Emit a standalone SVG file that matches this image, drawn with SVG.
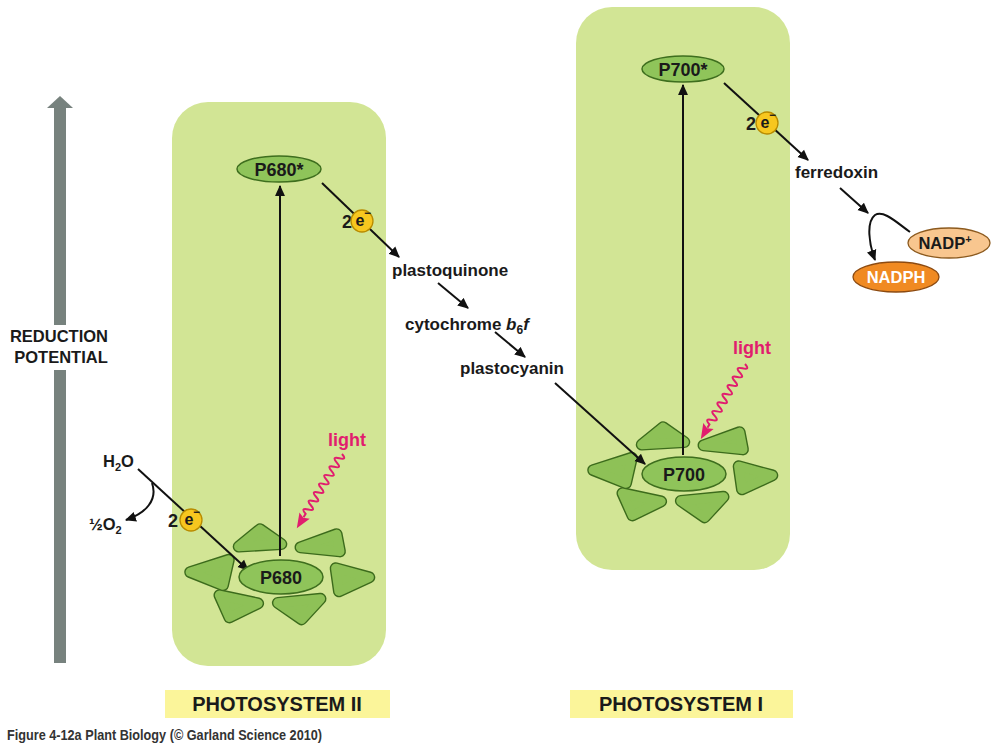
<svg xmlns="http://www.w3.org/2000/svg" xmlns:xlink="http://www.w3.org/1999/xlink" width="1000" height="745" viewBox="0 0 1000 745">
<style>
text{font-family:"Liberation Sans",Arial,sans-serif;font-weight:bold;fill:#1a1a1a}
.box{fill:#d2e595}
.ell{fill:#8fc45a;stroke:#3e6e1e;stroke-width:1.5}
.triO{fill:#3c6b1c;stroke:#3c6b1c;stroke-width:12;stroke-linejoin:round}
.triF{fill:#8ec157;stroke:#8ec157;stroke-width:9.2;stroke-linejoin:round}
.lbl{font-size:17px}
.pn{font-size:18px;text-anchor:middle}
.ln{fill:none;stroke:#111;stroke-width:2}
.ecirc{fill:#f7c71f;stroke:#b88b00;stroke-width:1.3}
.light{fill:#e11d6e;font-size:18px}
.wave{fill:none;stroke:#e11d6e;stroke-width:2}
.ttl{fill:#fbf59a}
</style>
<defs>
<marker id="ah" viewBox="0 0 10 10" refX="9" refY="5" markerWidth="5.5" markerHeight="5.5" orient="auto" markerUnits="strokeWidth">
<path d="M0,0.5 L10,5 L0,9.5 Z" fill="#111"/>
</marker>
<g id="tris">
<polygon points="-42.3,-29.4 -21,-46.7 0.3,-31.9"/>
<polygon points="19.5,-28.7 55.6,-41.8 58.9,-24.6"/>
<polygon points="-90.8,-3.9 -52.2,-16.2 -58,9.2"/>
<polygon points="54.7,-7.7 88.3,1.4 58,15.3"/>
<polygon points="-61.5,19.2 -22.9,27.4 -51.6,41.4"/>
<polygon points="-3.1,26.9 39.5,22.8 20.6,43.3"/>
</g>
<g id="cluster">
<use xlink:href="#tris" href="#tris" class="triO"/>
<use xlink:href="#tris" href="#tris" class="triF"/>
</g>
<g id="wave">
<path class="wave" d="M0,0 q2.5,-8 5,0 t5,0 t5,0 t5,0 t5,0 t5,0 t5,0 t5,0 t5,0 t5,0 t5,0 t5,0 t5,0 t5,0 L74,0"/>
<path d="M87,0 L72,-6 L74.5,0 L72,6 Z" fill="#e11d6e"/>
</g>
</defs>

<rect width="1000" height="745" fill="#fff"/>

<g id="axis">
<rect x="54" y="107" width="12" height="556" fill="#77827e"/>
<path d="M47,108 L60,96 L73,108 Z" fill="#77827e"/>
<rect x="6" y="325" width="108" height="45" fill="#fff"/>
<text x="59" y="342" font-size="16.5" text-anchor="middle">REDUCTION</text>
<text x="61" y="363" font-size="16.5" text-anchor="middle">POTENTIAL</text>
</g>

<g id="psii-box"><rect class="box" x="172" y="102" width="214" height="564" rx="36"/></g>
<g id="psi-box"><rect class="box" x="576" y="7" width="214" height="563" rx="36"/></g>

<g id="psii-cluster"><use xlink:href="#cluster" href="#cluster" x="281" y="576"/></g>
<g id="psi-cluster"><use xlink:href="#cluster" href="#cluster" x="684" y="474"/></g>

<g id="connectors">
<line class="ln" x1="280" y1="556" x2="280" y2="186" marker-end="url(#ah)"/>
<line class="ln" x1="683" y1="455" x2="683" y2="85" marker-end="url(#ah)"/>
<line class="ln" x1="322" y1="183" x2="399" y2="257" marker-end="url(#ah)"/>
<line class="ln" x1="438" y1="283" x2="468" y2="308" marker-end="url(#ah)"/>
<line class="ln" x1="495" y1="332" x2="525" y2="357" marker-end="url(#ah)"/>
<line class="ln" x1="555" y1="383" x2="645" y2="464" marker-end="url(#ah)"/>
<line class="ln" x1="724" y1="83" x2="808" y2="160" marker-end="url(#ah)"/>
<line class="ln" x1="840" y1="188" x2="868" y2="213" marker-end="url(#ah)"/>
<path class="ln" d="M910,232 C896,222 884,210 875,215 C866,222 869,244 875,260" marker-end="url(#ah)"/>
<line class="ln" x1="138" y1="469" x2="248" y2="570" marker-end="url(#ah)"/>
<path class="ln" d="M152,483 C158,500 146,513 126,520" marker-end="url(#ah)"/>
<use xlink:href="#wave" href="#wave" transform="translate(342,454) rotate(121.3)"/>
<use xlink:href="#wave" href="#wave" transform="translate(745,364) rotate(120.5)"/>
</g>

<g id="p680star"><ellipse class="ell" cx="279" cy="169" rx="42" ry="13"/><text class="pn" x="279" y="175.5">P680*</text></g>
<g id="p680"><ellipse class="ell" cx="281" cy="577" rx="42" ry="17"/><text class="pn" x="281" y="583.5">P680</text></g>
<g id="p700star"><ellipse class="ell" cx="683" cy="69" rx="41" ry="13"/><text class="pn" x="683" y="75.5">P700*</text></g>
<g id="p700"><ellipse class="ell" cx="684" cy="474" rx="42" ry="17"/><text class="pn" x="684" y="480.5">P700</text></g>

<g id="e-psii-top"><text x="342" y="228" font-size="18">2</text><circle class="ecirc" cx="362" cy="221" r="11"/><text x="355.5" y="226" font-size="16">e</text><text x="364" y="217" font-size="12">−</text></g>
<g id="e-psi-top"><text x="746" y="130" font-size="18">2</text><circle class="ecirc" cx="767" cy="123" r="11"/><text x="760.5" y="128" font-size="16">e</text><text x="769" y="119" font-size="12">−</text></g>
<g id="e-psii-low"><text x="168" y="527" font-size="18">2</text><circle class="ecirc" cx="191" cy="520" r="11"/><text x="184.5" y="525" font-size="16">e</text><text x="193" y="516" font-size="12">−</text></g>

<g id="plastoquinone"><text class="lbl" x="392" y="276">plastoquinone</text></g>
<g id="cytochrome"><text class="lbl" x="405" y="330">cytochrome <tspan font-style="italic">b</tspan><tspan font-size="12" dy="4">6</tspan><tspan font-style="italic" dy="-4">f</tspan></text></g>
<g id="plastocyanin"><text class="lbl" x="460" y="374">plastocyanin</text></g>
<g id="ferredoxin"><text class="lbl" x="795" y="178">ferredoxin</text></g>

<g id="nadp"><ellipse cx="949" cy="243" rx="41" ry="15" fill="#f8c68f" stroke="#8c5a1e" stroke-width="1.3"/><text x="945" y="249" font-size="16.5" text-anchor="middle">NADP<tspan font-size="11" dy="-6">+</tspan></text></g>
<g id="nadph"><ellipse cx="896" cy="277" rx="43" ry="15" fill="#f08a22" stroke="#8c4a10" stroke-width="1.3"/><text x="896" y="283" font-size="16.5" text-anchor="middle" style="fill:#fff">NADPH</text></g>

<g id="h2o"><text x="103" y="467" font-size="16.5">H<tspan font-size="11" dy="4">2</tspan><tspan dy="-4">O</tspan></text></g>
<g id="o2"><text x="89" y="530" font-size="16.5">½O<tspan font-size="11" dy="4">2</tspan></text></g>

<g id="light-psii"><text class="light" x="328" y="446">light</text></g>
<g id="light-psi"><text class="light" x="733" y="354">light</text></g>

<g id="title-psii"><rect class="ttl" x="165" y="690" width="225" height="28"/><text x="277" y="711" font-size="20" text-anchor="middle">PHOTOSYSTEM II</text></g>
<g id="title-psi"><rect class="ttl" x="570" y="690" width="223" height="28"/><text x="681" y="711" font-size="20" text-anchor="middle">PHOTOSYSTEM I</text></g>

<g id="caption"><text x="7" y="740" font-size="14" textLength="315" lengthAdjust="spacingAndGlyphs" style="fill:#333">Figure 4-12a  Plant Biology (© Garland Science 2010)</text></g>
</svg>
